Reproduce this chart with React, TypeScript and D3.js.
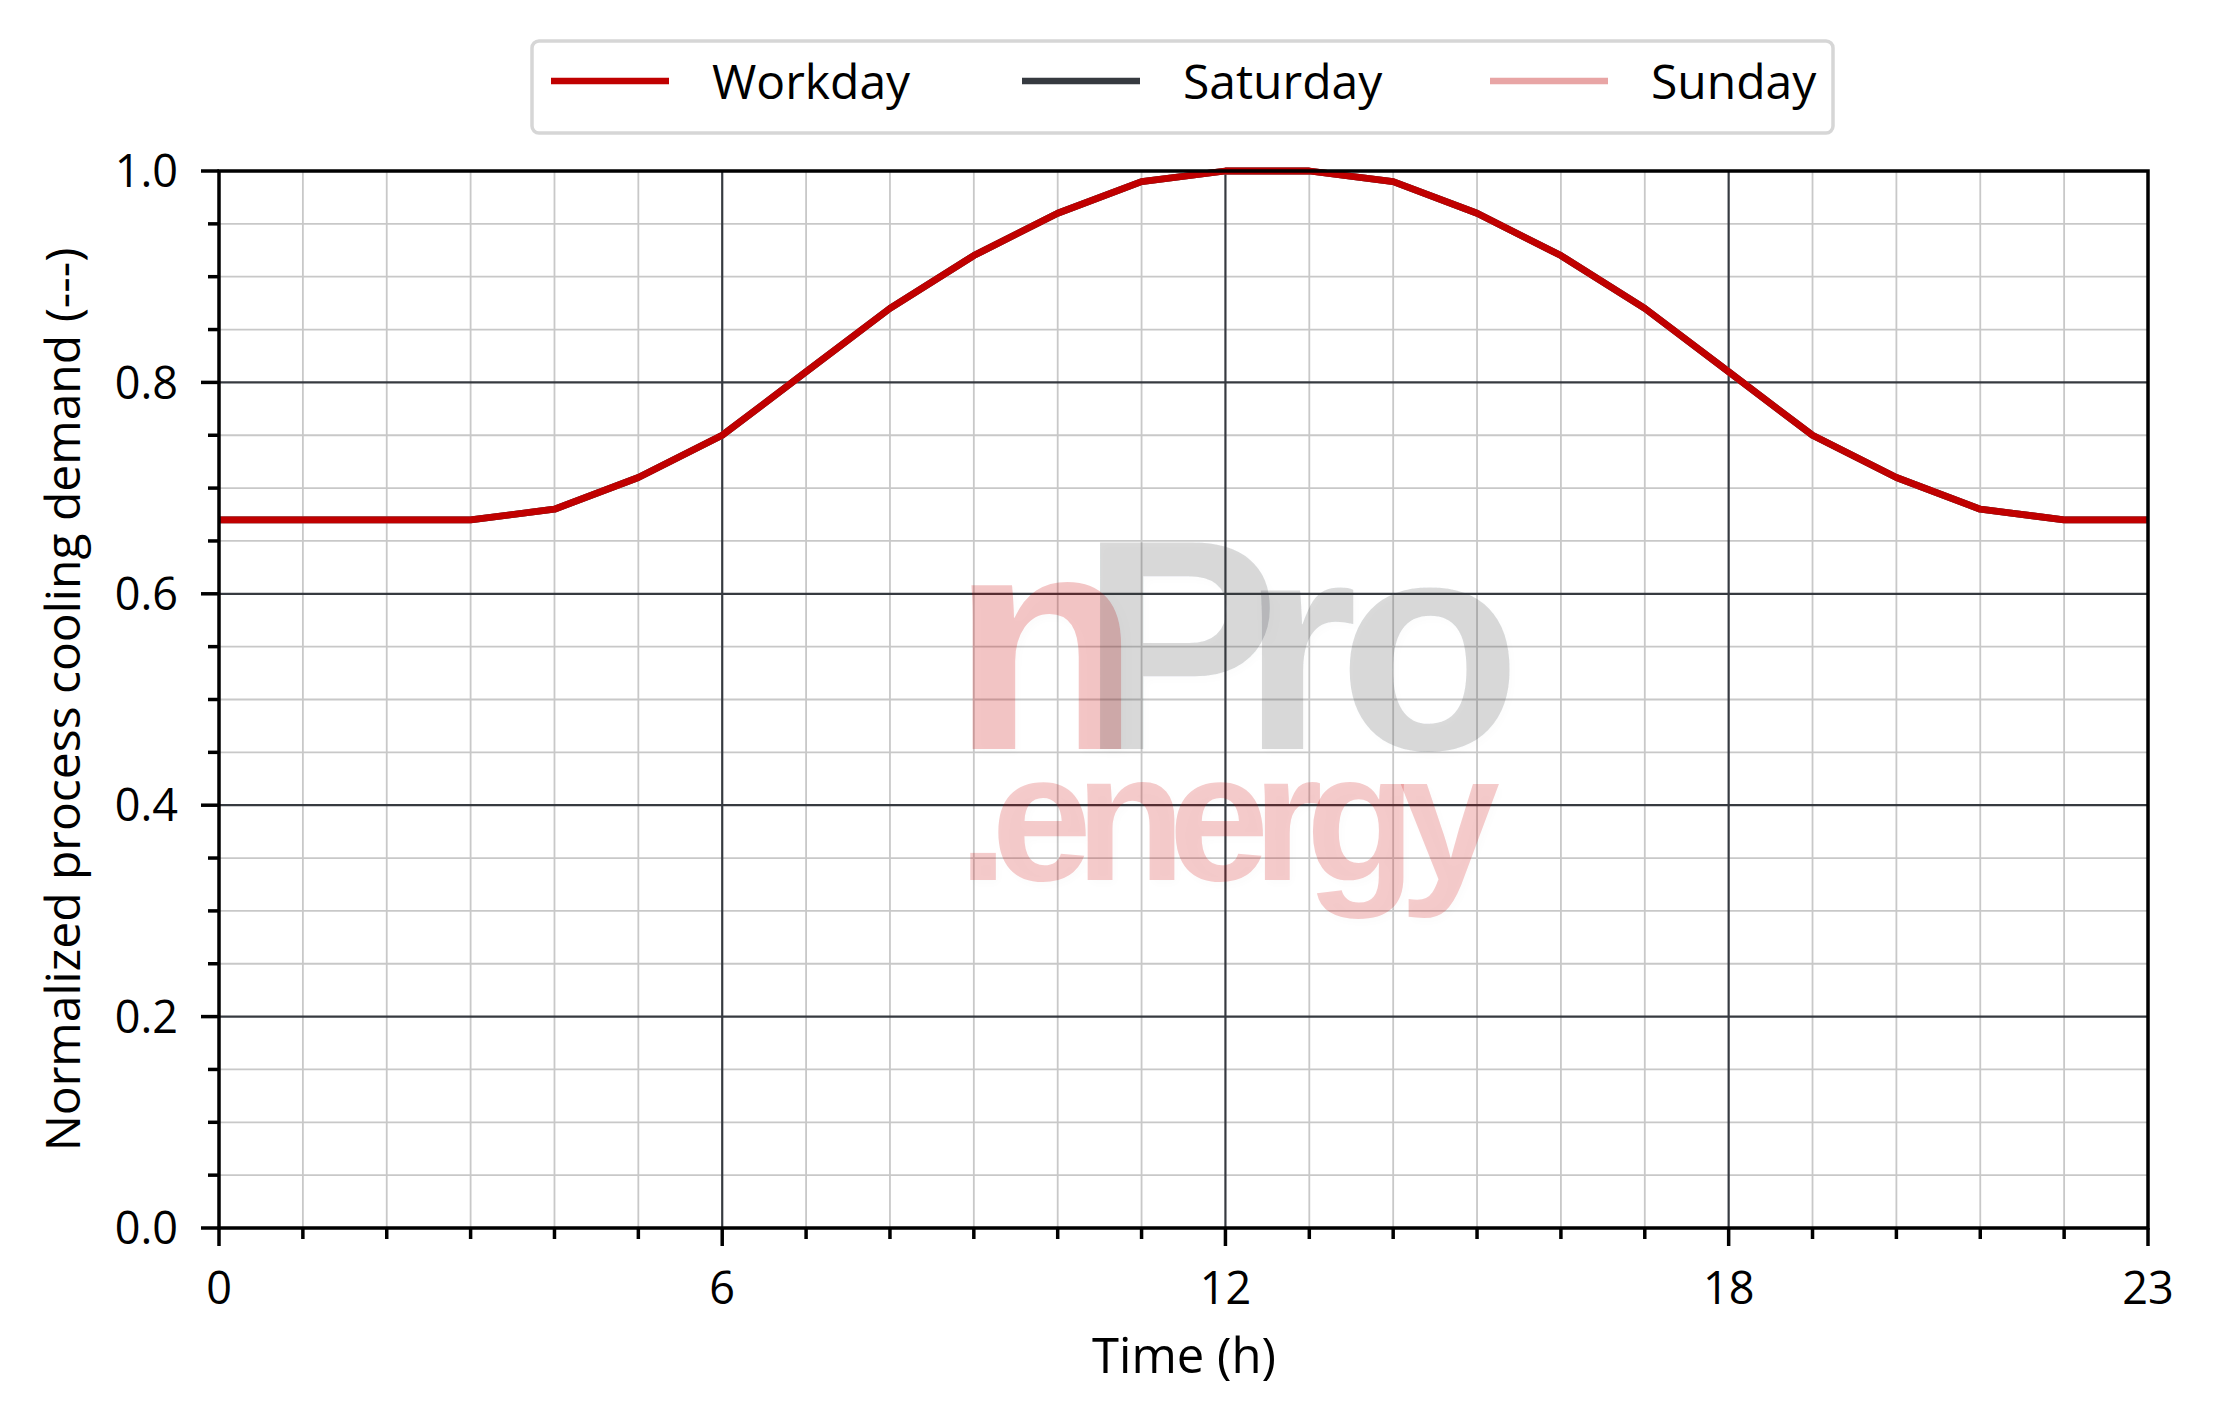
import React, { useEffect, useRef } from "react";
import * as d3 from "d3";

const hours = d3.range(0, 24);
const workday = [0.67, 0.67, 0.67, 0.67, 0.68, 0.71, 0.75, 0.81, 0.87, 0.92, 0.96, 0.99, 1.0, 1.0, 0.99, 0.96, 0.92, 0.87, 0.81, 0.75, 0.71, 0.68, 0.67, 0.67];
const saturday = [0.67, 0.67, 0.67, 0.67, 0.68, 0.71, 0.75, 0.81, 0.87, 0.92, 0.96, 0.99, 1.0, 1.0, 0.99, 0.96, 0.92, 0.87, 0.81, 0.75, 0.71, 0.68, 0.67, 0.67];
const sunday = [0.67, 0.67, 0.67, 0.67, 0.68, 0.71, 0.75, 0.81, 0.87, 0.92, 0.96, 0.99, 1.0, 1.0, 0.99, 0.96, 0.92, 0.87, 0.81, 0.75, 0.71, 0.68, 0.67, 0.67];
const seriesNames = ["Workday", "Saturday", "Sunday"];
const seriesColors = ["#c00000", "#363a40", "#e8a5a5"];
const xMajorTicks = [0, 6, 12, 18, 23];
const yMajorTicks = [0, 0.2, 0.4, 0.6, 0.8, 1.0];
const xLabel = "Time (h)";
const yLabel = "Normalized process cooling demand (---)";

const W = 2216, H = 1424;
const M = { left: 219, right: 2148, top: 171, bottom: 1228 };
const FONT = "'Open Sans', 'Noto Sans', sans-serif";

export default function App() {
  const ref = useRef<SVGSVGElement>(null);
  useEffect(() => {
    document.body.style.margin = "0";
    const svg = d3.select(ref.current);
    svg.selectAll("*").remove();
    const x = d3.scaleLinear().domain([0, 23]).range([M.left, M.right]);
    const y = d3.scaleLinear().domain([0, 1]).range([M.bottom, M.top]);

    svg.append("rect").attr("width", W).attr("height", H).attr("fill", "white");

    const grid = svg.append("g");
    d3.range(0, 24).forEach((h) => {
      if (h % 6 === 0 || h === 23) return;
      grid.append("line").attr("x1", x(h)).attr("x2", x(h)).attr("y1", M.top).attr("y2", M.bottom)
        .attr("stroke", "#c8c8c8").attr("stroke-width", 1.8);
    });
    d3.range(0, 21).forEach((i) => {
      const v = i * 0.05;
      if (i % 4 === 0) return;
      grid.append("line").attr("x1", M.left).attr("x2", M.right).attr("y1", y(v)).attr("y2", y(v))
        .attr("stroke", "#c8c8c8").attr("stroke-width", 1.8);
    });
    [6, 12, 18].forEach((h) => {
      grid.append("line").attr("x1", x(h)).attr("x2", x(h)).attr("y1", M.top).attr("y2", M.bottom)
        .attr("stroke", "#363a40").attr("stroke-width", 2.2);
    });
    [0.2, 0.4, 0.6, 0.8].forEach((v) => {
      grid.append("line").attr("x1", M.left).attr("x2", M.right).attr("y1", y(v)).attr("y2", y(v))
        .attr("stroke", "#363a40").attr("stroke-width", 2.2);
    });

    // watermark
    const defs = svg.append("defs");
    const f = defs.append("filter").attr("id", "wmshadow").attr("x", "-10%").attr("y", "-10%").attr("width", "130%").attr("height", "130%");
    f.append("feGaussianBlur").attr("in", "SourceAlpha").attr("stdDeviation", 4).attr("result", "b");
    f.append("feOffset").attr("in", "b").attr("dx", 3).attr("dy", 4).attr("result", "o");
    f.append("feComponentTransfer").attr("in", "o").attr("result", "s")
      .append("feFuncA").attr("type", "linear").attr("slope", 0.08);
    const fm = f.append("feMerge");
    fm.append("feMergeNode").attr("in", "s");
    fm.append("feMergeNode").attr("in", "SourceGraphic");

    const wm = svg.append("g").attr("font-family", "'Liberation Sans', Arial, sans-serif").attr("font-weight", "bold")
      .attr("filter", "url(#wmshadow)");
    const nproY = 749;
    wm.append("text").attr("x", 951).attr("y", nproY).attr("font-size", 310)
      .attr("fill", "#cc0000").attr("fill-opacity", 0.22).text("n");
    const pro = wm.append("text").attr("y", nproY).attr("font-size", 300)
      .attr("fill", "#363a40").attr("fill-opacity", 0.19);
    pro.append("tspan").attr("x", 1080).text("P");
    pro.append("tspan").attr("x", 1241).text("r");
    pro.append("tspan").attr("x", 1338).text("o");
    wm.append("text").attr("x", 958).attr("y", 880).attr("font-size", 181).attr("letter-spacing", -17)
      .attr("fill", "#cc0000").attr("fill-opacity", 0.2).text(".energy");

    // lines
    const line = d3.line<number>().x((_, i) => x(hours[i])).y((d) => y(d));
    const all = [sunday, saturday, workday];
    const cols = [seriesColors[2], seriesColors[1], seriesColors[0]];
    all.forEach((s, k) => {
      svg.append("path").attr("d", line(s)).attr("fill", "none").attr("stroke", cols[k])
        .attr("stroke-width", 6.8).attr("stroke-linejoin", "round");
    });

    // axes frame
    svg.append("rect").attr("x", M.left).attr("y", M.top).attr("width", M.right - M.left).attr("height", M.bottom - M.top)
      .attr("fill", "none").attr("stroke", "black").attr("stroke-width", 3.5);

    const tk = svg.append("g").attr("stroke", "black").attr("stroke-width", 3.5);
    d3.range(0, 24).forEach((h) => {
      const major = xMajorTicks.includes(h);
      tk.append("line").attr("x1", x(h)).attr("x2", x(h)).attr("y1", M.bottom).attr("y2", M.bottom + (major ? 18 : 11));
    });
    d3.range(0, 21).forEach((i) => {
      const major = i % 4 === 0;
      const v = i * 0.05;
      tk.append("line").attr("x1", M.left).attr("x2", M.left - (major ? 18 : 11)).attr("y1", y(v)).attr("y2", y(v));
    });

    const lab = svg.append("g").attr("font-family", FONT).attr("font-size", 45).attr("fill", "black");
    xMajorTicks.forEach((h) => {
      lab.append("text").attr("x", x(h)).attr("y", 1304).attr("text-anchor", "middle").text(String(h));
    });
    yMajorTicks.forEach((v) => {
      lab.append("text").attr("x", 178).attr("y", y(v)).attr("dy", "0.36em").attr("text-anchor", "end").text(v.toFixed(1));
    });
    lab.append("text").attr("x", 1184).attr("y", 1373).attr("font-size", 49).attr("text-anchor", "middle").text(xLabel);
    lab.append("text").attr("transform", `translate(80,${(M.top + M.bottom) / 2}) rotate(-90)`)
      .attr("font-size", 48).attr("text-anchor", "middle").text(yLabel);

    // legend
    const lg = svg.append("g");
    lg.append("rect").attr("x", 532).attr("y", 41).attr("width", 1301).attr("height", 92).attr("rx", 7)
      .attr("fill", "white").attr("stroke", "#d6d6d6").attr("stroke-width", 3.5);
    const lx = [551, 1022, 1490];
    seriesNames.forEach((n, i) => {
      lg.append("line").attr("x1", lx[i]).attr("x2", lx[i] + 118).attr("y1", 81).attr("y2", 81)
        .attr("stroke", seriesColors[i]).attr("stroke-width", 6.5);
      lg.append("text").attr("x", lx[i] + 161).attr("y", 99).attr("font-family", FONT).attr("font-size", 48)
        .attr("fill", "black").text(n);
    });
  }, []);
  return <svg ref={ref} width={W} height={H} style={{ display: "block", position: "absolute", left: 0, top: 0 }} />;
}
